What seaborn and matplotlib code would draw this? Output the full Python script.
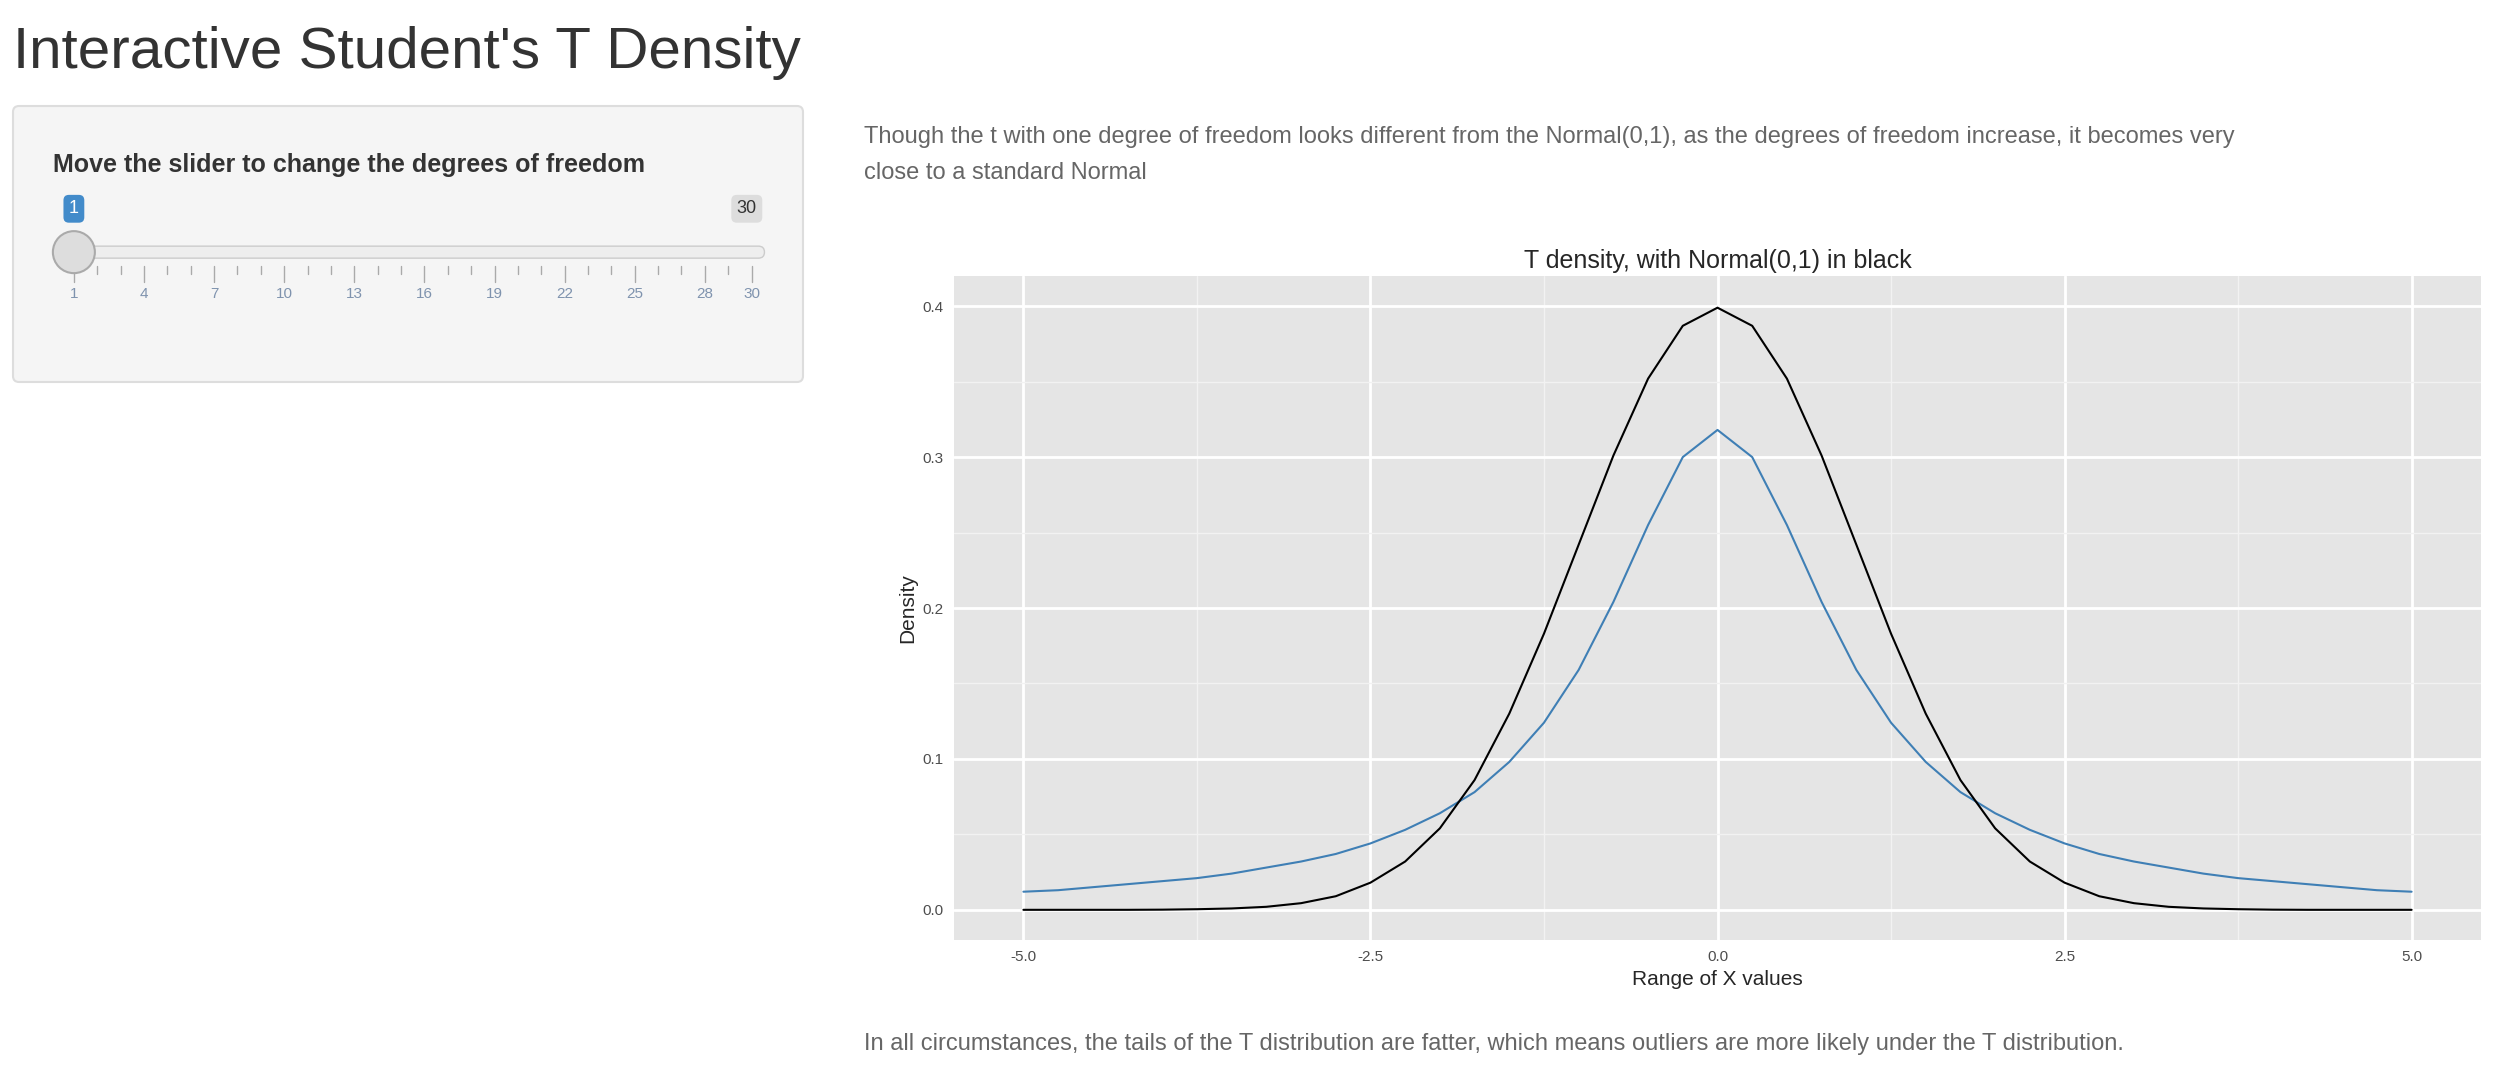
import numpy as np
import pandas as pd
import matplotlib
matplotlib.use("Agg")
import matplotlib.pyplot as plt
from matplotlib.patches import FancyBboxPatch, Circle
import seaborn as sns

# values (x step 0.25, curves symmetric about 0)
x_half = [0, 0.25, 0.5, 0.75, 1, 1.25, 1.5, 1.75, 2, 2.25, 2.5, 2.75, 3, 3.25, 3.5,
          3.75, 4, 4.25, 4.5, 4.75, 5]
t_half = [0.318, 0.300, 0.255, 0.204, 0.159, 0.124, 0.098, 0.078, 0.064, 0.053, 0.044,
          0.037, 0.032, 0.028, 0.024, 0.021, 0.019, 0.017, 0.015, 0.013, 0.012]
norm_half = [0.399, 0.387, 0.352, 0.301, 0.242, 0.183, 0.130, 0.086, 0.054, 0.032, 0.018,
             0.009, 0.0044, 0.002, 0.0009, 0.0004, 0.0001, 0.0, 0.0, 0.0, 0.0]
slider_ticks = [1, 4, 7, 10, 13, 16, 19, 22, 25, 28, 30]

xs = [-v for v in x_half[:0:-1]] + x_half
df = pd.DataFrame({
    "x": xs,
    "t": t_half[:0:-1] + t_half,
    "normal": norm_half[:0:-1] + norm_half,
})

sns.set_theme(style="darkgrid", rc={"axes.facecolor": "#E5E5E5", "grid.color": "white"})
plt.rcParams['font.family'] = ['Liberation Sans', 'DejaVu Sans']

W, H = 2518, 1082
fig = plt.figure(figsize=(W / 100, H / 100), dpi=100)
fig.patch.set_facecolor("white")

# page overlay in pixel coords
page = fig.add_axes([0, 0, 1, 1])
page.set_xlim(0, W)
page.set_ylim(H, 0)
page.axis("off")

s = 1.606
page.text(13, 53, "Interactive Student's T Density", fontsize=42, color="#333333",
          va="center", ha="left")
page.add_patch(FancyBboxPatch((13, 106), 790, 276, boxstyle="round,pad=0,rounding_size=6",
                              fc="#F5F5F5", ec="#DDDDDD", lw=1.5))
page.text(33 * s, 103 * s, "Move the slider to change the degrees of freedom", fontsize=18,
          fontweight="bold", color="#333333", va="center")
# slider
x0, x1 = 46 * s, 468 * s
ty = 157 * s
page.add_patch(FancyBboxPatch((x0, ty - 6), 476 * s - x0, 12,
                              boxstyle="round,pad=0,rounding_size=6", fc="#EEEEEE", ec="#CCCCCC"))
for i in range(30):
    v = 1 + i
    px = x0 + (v - 1) / 29 * (x1 - x0)
    major = v in slider_ticks
    page.plot([px, px], [ty + 14, ty + (30 if major else 22)], color="#AAAAAA", lw=1)
for v in slider_ticks:
    px = x0 + (v - 1) / 29 * (x1 - x0)
    page.text(px, 183 * s, str(v), fontsize=11, color="#7F93AE", ha="center", va="center")
page.add_patch(Circle((x0, ty), 21, fc="#DDDDDD", ec="#AAAAAA", lw=1.5, zorder=5))
page.text(x0, 130 * s, "1", fontsize=13, color="white", ha="center", va="center",
          bbox=dict(boxstyle="round,pad=0.3", fc="#428BCA", ec="none"))
page.text(465 * s, 130 * s, "30", fontsize=13, color="#333333", ha="center", va="center",
          bbox=dict(boxstyle="round,pad=0.3", fc="#DDDDDD", ec="none"))

txt = "#666666"
page.text(538 * s, 85 * s, "Though the t with one degree of freedom looks different from the "
          "Normal(0,1), as the degrees of freedom increase, it becomes very", fontsize=17,
          color=txt, va="center")
page.text(538 * s, 108 * s, "close to a standard Normal", fontsize=17, color=txt, va="center")
page.text(538 * s, 650 * s, "In all circumstances, the tails of the T distribution are fatter, "
          "which means outliers are more likely under the T distribution.", fontsize=17,
          color=txt, va="center")

# main chart
ax = fig.add_axes([954 / W, 1 - 940 / H, (2481 - 954) / W, (940 - 276) / H])
sns.lineplot(data=df, x="x", y="t", color="#3F7FB5", lw=1.5, ax=ax)
sns.lineplot(data=df, x="x", y="normal", color="black", lw=1.5, ax=ax)
ax.set_xlim(-5.5, 5.5)
ax.set_ylim(-0.02, 0.42)
ax.set_xticks([-5, -2.5, 0, 2.5, 5])
ax.set_xticklabels(["-5.0", "-2.5", "0.0", "2.5", "5.0"])
ax.set_yticks([0, 0.1, 0.2, 0.3, 0.4])
ax.set_yticklabels(["0.0", "0.1", "0.2", "0.3", "0.4"])
ax.set_xticks([-3.75, -1.25, 1.25, 3.75], minor=True)
ax.set_yticks([0.05, 0.15, 0.25, 0.35], minor=True)
ax.grid(which="major", color="white", lw=2)
ax.grid(which="minor", color="#F2F2F2", lw=1)
ax.tick_params(axis="both", labelsize=11, labelcolor="#4D4D4D", length=4, color="#4D4D4D")
ax.set_xlabel("Range of X values", fontsize=15)
ax.set_ylabel("Density", fontsize=15)
ax.set_title("T density, with Normal(0,1) in black", fontsize=18, pad=6)
for sp in ax.spines.values():
    sp.set_visible(False)

fig.savefig("out.png", dpi=100, facecolor="white")
